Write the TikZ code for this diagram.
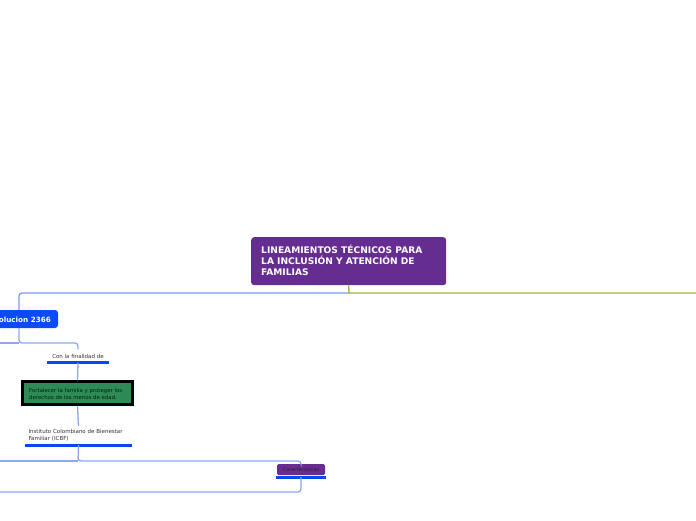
\documentclass[tikz,border=0pt]{standalone}
\usepackage{fontspec}
\setmainfont{DejaVu Sans}
\begin{document}
\begin{tikzpicture}[x=1pt,y=-1pt,
  plain/.style={font=\fontsize{5.5}{6.5}\selectfont,text=black!80,inner sep=0pt,align=left},
]
\definecolor{mainpurple}{HTML}{662D91}
\definecolor{resblue}{HTML}{0A4BFF}
\definecolor{ulblue}{HTML}{0A46F5}
\definecolor{linkblue}{HTML}{8CA8F5}
\definecolor{olive}{HTML}{A8B232}
\definecolor{greenbox}{HTML}{2E8B57}
\definecolor{carpurple}{HTML}{6A2C91}
\tikzset{uline/.style={draw=ulblue,line width=2.6pt},
  conn/.style={draw=#1,line width=1.3pt,rounded corners=3pt},
  conn/.default=linkblue}
\useasboundingbox (0,0) rectangle (696,520);
\fill[white] (0,0) rectangle (696,520);

% main node
\node[fill=mainpurple,rounded corners=3pt,minimum width=195pt,minimum height=48pt,
  anchor=north west,inner sep=0pt] (main) at (251,237) {};
\node[anchor=north west,text=white,font=\bfseries\fontsize{9.1}{11}\selectfont,
  align=left,inner sep=0pt] (maintxt) at (261,245)
  {LINEAMIENTOS TÉCNICOS PARA\\LA INCLUSIÓN Y ATENCIÓN DE\\FAMILIAS};

% resolucion node
\node[fill=resblue,rounded corners=3pt,minimum width=78pt,minimum height=18pt,
  inner sep=0pt] (res) at (19,319) {};
\node[anchor=east,text=white,font=\bfseries\fontsize{7.2}{8}\selectfont,inner sep=0pt]
  (restxt) at (51,319.5) {Resolucion 2366};

% con la finalidad de
\node[plain,minimum width=61pt,minimum height=13pt,align=center] (fin) at (78,356) {Con la finalidad de};
\draw[uline] (fin.south west) -- (fin.south east);

% green box
\node[fill=greenbox,draw=black,line width=2.5pt,minimum width=110pt,minimum height=23pt,
  inner sep=0pt] (goal) at (77.5,393) {};
\node[plain,anchor=west,text=black!85!green,font=\fontsize{5.4}{7}\selectfont] (goaltxt) at (29,393.5)
  {Fortalecer la familia y proteger los\\derechos de los menos de edad.};

% ICBF
\node[plain,minimum width=107pt,minimum height=19pt,text width=100pt] (icbf) at (78.5,435.5)
  {Instituto Colombiano de Bienestar\\Familiar (ICBF)};
\draw[uline] (icbf.south west) -- (icbf.south east);

% Caracteristicas
\node[fill=carpurple,rounded corners=1.5pt,minimum width=48pt,minimum height=11pt,
  inner sep=0pt,font=\fontsize{4.9}{6}\selectfont,text=black!85] (car) at (301,469.5) {Caracteristicas};
\draw[uline] ([xshift=-1pt,yshift=-2pt]car.south west) coordinate (cul) -- ([xshift=1pt,yshift=-2pt]car.south east) coordinate (cur);

% free ends
\coordinate (leftA) at (-10,343);
\coordinate (leftB) at (-10,461);
\coordinate (leftC) at (-10,492);
\coordinate (rightA) at (706,293);

% connectors
\draw[draw=olive,line width=1.3pt] (main.south) -- (349,293) -- (rightA);
\draw[conn=linkblue!90!blue] (349,293) -- (19,293) -- (res.north);
\draw[conn] (res.south) -- (19,343) -- (78,343) -- (fin.north);
\draw[conn] (19,343) -- (leftA);
\draw[conn] (fin.south) -- (goal.north);
\draw[conn] (goal.south) -- (icbf.north);
\draw[conn] (icbf.south) -- (78,461) -- (301,461) -- (car.north);
\draw[conn] (78,461) -- (leftB);
\draw[conn] (car.south |- cul) -- (301,492) -- (leftC);
\end{tikzpicture}
\end{document}
